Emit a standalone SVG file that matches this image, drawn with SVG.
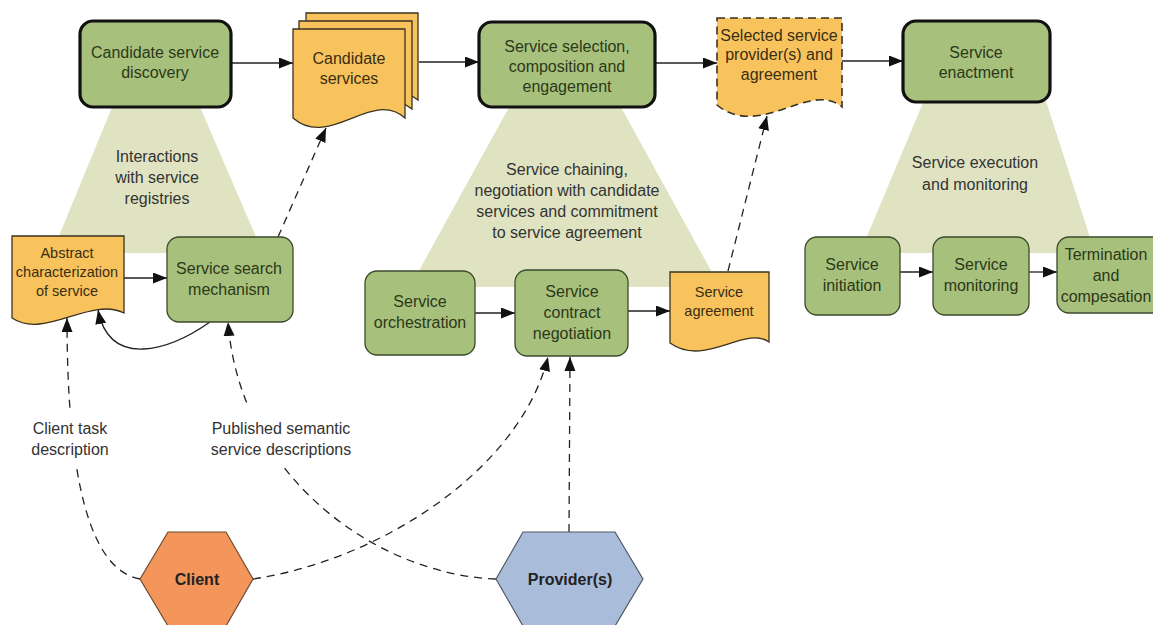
<svg xmlns="http://www.w3.org/2000/svg" width="1153" height="625" viewBox="0 0 1153 625">
  <defs>
    <marker id="arrow" markerUnits="userSpaceOnUse" markerWidth="15" markerHeight="12" refX="14" refY="5.5" orient="auto">
      <path d="M0,0 L14,5.5 L0,11 Z" fill="#111"/>
    </marker>
    <style>
      text { font-family: "Liberation Sans", Arial, sans-serif; font-size: 16px; text-anchor: middle; }
      .phase { fill: #dfe3c2; stroke: none; }
      .stage { fill: #a7c17d; stroke: #111; stroke-width: 3.2; }
      .task { fill: #a7c17d; stroke: #3c4a2c; stroke-width: 1.3; }
      .doc { fill: #f8c35c; stroke: #3a3220; stroke-width: 1.3; }
      .doc-dash { fill: #f8c35c; stroke: #3a3220; stroke-width: 1.6; stroke-dasharray: 8 5; }
      .gt { fill: #2c3818; }
      .dt { fill: #3a2e14; }
      .small { font-size: 14.5px; }
      .lbl { fill: #333; }
      .flow { fill: none; stroke: #222; stroke-width: 1.3; marker-end: url(#arrow); }
      .dash-a { fill: none; stroke: #222; stroke-width: 1.3; stroke-dasharray: 8 6; marker-end: url(#arrow); }
      .hex-text { font-weight: bold; font-size: 16px; fill: #222; }
    </style>
  </defs>

  <rect width="1153" height="625" fill="#fff"/>

  <!-- phase backgrounds -->
  <g id="phases">
    <polygon class="phase" points="115,100 197,100 263,253 52,253"/>
    <polygon class="phase" points="513,100 617,100 720,287 410,287"/>
    <polygon class="phase" points="925,98 1045,98 1095,253 860,253"/>
  </g>

  <!-- connectors -->
  <g id="connectors">
    <path class="flow" d="M231,63 H293"/>
    <path class="flow" d="M419,62 H479"/>
    <path class="flow" d="M655,63 H717"/>
    <path class="flow" d="M842,61 H903"/>
    <path class="flow" d="M124,278 H167"/>
    <path class="flow" d="M210,322 C170,350 110,370 98,310"/>
    <path class="flow" d="M475,313 H515"/>
    <path class="flow" d="M628,311 H670"/>
    <path class="flow" d="M900,272 H933"/>
    <path class="flow" d="M1029,272 H1057"/>
    <path class="dash-a" d="M278,237 L326,128"/>
    <path class="dash-a" d="M728,271 L767,116"/>
    <path class="dash-a" d="M140,579 C90,570 67,480 67,318"/>
    <path class="dash-a" d="M496,579 C380,575 240,480 228,322"/>
    <path class="dash-a" d="M253,579 C380,560 520,470 548,357"/>
    <path class="dash-a" d="M569,532 L570,357"/>
  </g>

  <!-- connector labels -->
  <g id="labels">
    <rect x="22" y="408" width="98" height="60" fill="#fff"/>
    <text class="lbl" x="70" y="434">Client task</text>
    <text class="lbl" x="70" y="455">description</text>
    <rect x="202" y="408" width="158" height="60" fill="#fff"/>
    <text class="lbl" x="281" y="434">Published semantic</text>
    <text class="lbl" x="281" y="455">service descriptions</text>
  </g>

  <!-- phase labels -->
  <g id="phase-labels">
    <text class="lbl" x="157" y="162">Interactions</text>
    <text class="lbl" x="157" y="183">with service</text>
    <text class="lbl" x="157" y="204">registries</text>
    <text class="lbl" x="567" y="175">Service chaining,</text>
    <text class="lbl" x="567" y="196">negotiation with candidate</text>
    <text class="lbl" x="567" y="217">services and commitment</text>
    <text class="lbl" x="567" y="238">to service agreement</text>
    <text class="lbl" x="975" y="168">Service execution</text>
    <text class="lbl" x="975" y="190">and monitoring</text>
  </g>

  <g id="candidate-discovery">
    <rect class="stage" x="80" y="21" width="151" height="86" rx="13"/>
    <text class="gt" x="155" y="58">Candidate service</text>
    <text class="gt" x="155" y="78">discovery</text>
  </g>

  <g id="candidate-services">
    <path class="doc" d="M306,13 H418 V100 C385,72 343,137 306,100 Z"/>
    <path class="doc" d="M299,21 H412 V109 C379,81 336,146 299,109 Z"/>
    <path class="doc" d="M293,29 H405 V118 C372,88 330,150 293,118 Z"/>
    <text class="dt" x="349" y="64">Candidate</text>
    <text class="dt" x="349" y="84">services</text>
  </g>

  <g id="service-selection">
    <rect class="stage" x="479" y="22" width="176" height="85" rx="13"/>
    <text class="gt" x="567" y="52">Service selection,</text>
    <text class="gt" x="567" y="72">composition and</text>
    <text class="gt" x="567" y="92">engagement</text>
  </g>

  <g id="selected-providers">
    <path class="doc-dash" d="M717,18 H842 V107 C810,80 760,140 717,105 Z"/>
    <text class="dt" x="779" y="41">Selected service</text>
    <text class="dt" x="779" y="60">provider(s) and</text>
    <text class="dt" x="779" y="80">agreement</text>
  </g>

  <g id="service-enactment">
    <rect class="stage" x="903" y="21" width="147" height="81" rx="13"/>
    <text class="gt" x="976" y="58">Service</text>
    <text class="gt" x="976" y="78">enactment</text>
  </g>

  <g id="abstract-characterization">
    <path class="doc" d="M12,236 H124 V313 C90,296 45,340 12,318 Z"/>
    <text class="dt small" x="67" y="258">Abstract</text>
    <text class="dt small" x="67" y="277">characterization</text>
    <text class="dt small" x="67" y="296">of service</text>
  </g>

  <g id="service-search">
    <rect class="task" x="167" y="237" width="126" height="85" rx="12"/>
    <text class="gt" x="229" y="274">Service search</text>
    <text class="gt" x="229" y="295">mechanism</text>
  </g>

  <g id="service-orchestration">
    <rect class="task" x="365" y="271" width="110" height="84" rx="12"/>
    <text class="gt" x="420" y="307">Service</text>
    <text class="gt" x="420" y="328">orchestration</text>
  </g>

  <g id="contract-negotiation">
    <rect class="task" x="515" y="270" width="113" height="86" rx="12"/>
    <text class="gt" x="572" y="297">Service</text>
    <text class="gt" x="572" y="318">contract</text>
    <text class="gt" x="572" y="339">negotiation</text>
  </g>

  <g id="service-agreement">
    <path class="doc" d="M670,272 H769 V342 C745,325 705,368 670,343 Z"/>
    <text class="dt small" x="719" y="297">Service</text>
    <text class="dt small" x="719" y="316">agreement</text>
  </g>

  <g id="service-initiation">
    <rect class="task" x="805" y="237" width="95" height="78" rx="12"/>
    <text class="gt" x="852" y="270">Service</text>
    <text class="gt" x="852" y="291">initiation</text>
  </g>

  <g id="service-monitoring">
    <rect class="task" x="933" y="237" width="96" height="78" rx="12"/>
    <text class="gt" x="981" y="270">Service</text>
    <text class="gt" x="981" y="291">monitoring</text>
  </g>

  <g id="termination">
    <rect class="task" x="1057" y="237" width="110" height="76" rx="12"/>
    <text class="gt" x="1106" y="260">Termination</text>
    <text class="gt" x="1106" y="281">and</text>
    <text class="gt" x="1106" y="302">compesation</text>
  </g>

  <g id="client">
    <polygon points="140,579 168,532 226,532 253,579 226,626 168,626" fill="#f4955c" stroke="#6e4a30" stroke-width="1.2"/>
    <text class="hex-text" x="197" y="585">Client</text>
  </g>

  <g id="providers">
    <polygon points="496,579 523,532 615,532 643,579 615,626 523,626" fill="#a9bcda" stroke="#4e5866" stroke-width="1.2"/>
    <text class="hex-text" x="570" y="585">Provider(s)</text>
  </g>
</svg>
